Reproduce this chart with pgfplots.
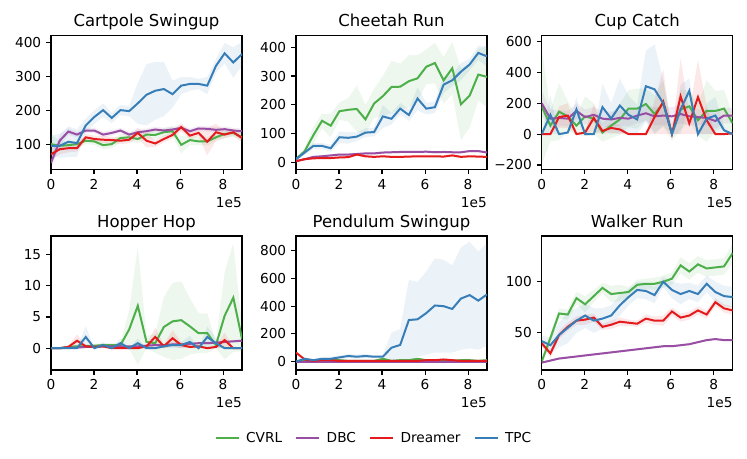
\documentclass[border=0pt]{standalone}
\usepackage{fontspec}
\setmainfont{DejaVu Sans}
\usepackage{pgfplots}
\usepackage{pgfplotstable}
\pgfplotsset{compat=1.18}
\usepgfplotslibrary{fillbetween}
\definecolor{cvrl}{HTML}{4DAF4A}
\definecolor{dbc}{HTML}{984EA3}
\definecolor{dreamer}{HTML}{E41A1C}
\definecolor{tpc}{HTML}{377EB8}
\newcommand{\tickfont}{\fontsize{13.7bp}{16bp}\selectfont}
\newcommand{\titlefont}{\fontsize{16.5bp}{19bp}\selectfont}

% columns: x, CVRL (g, gs), DBC (p, ps), Dreamer (r, rs), TPC (b, bs); *s = half width of band
\pgfplotstableread{
x g gs p ps r rs b bs
0.000 100 30 45 20 70 15 95 30
0.404 95 15 110 15 85 15 95 35
0.807 97 10 137 10 88 12 107 45
1.211 100 10 128 8 88 10 103 40
1.615 110 10 140 8 120 10 155 20
2.018 108 10 140 8 115 10 180 20
2.422 97 12 128 8 113 10 200 20
2.825 100 12 133 8 112 10 177 15
3.229 118 12 140 8 110 10 200 15
3.633 120 12 128 8 113 10 197 15
4.036 115 12 135 8 133 15 220 60
4.440 128 12 138 8 110 20 245 90
4.844 127 12 143 8 102 10 257 85
5.247 135 12 140 8 115 10 262 80
5.651 138 15 143 8 127 10 247 40
6.055 98 25 148 8 150 12 272 25
6.458 112 15 138 8 125 10 277 20
6.862 108 12 146 8 133 10 277 15
7.265 108 12 145 8 107 40 272 25
7.669 120 12 142 8 135 25 330 20
8.073 130 12 144 8 128 10 367 30
8.476 133 12 140 8 135 10 340 45
8.880 120 12 138 8 118 10 365 35
}\tabA
\pgfplotstableread{
x g gs p ps r rs b bs
0.000 12 5 5 3 5 3 12 5
0.404 40 10 12 3 12 3 35 8
0.807 95 30 20 4 15 3 58 10
1.211 145 25 22 4 16 3 58 10
1.615 128 40 25 4 16 3 50 12
2.018 178 30 28 4 18 3 88 20
2.422 183 40 28 4 19 3 86 20
2.825 186 80 30 4 28 4 90 15
3.229 150 50 32 4 22 3 104 15
3.633 205 50 32 4 20 3 106 15
4.036 230 70 35 4 22 3 160 40
4.440 262 90 36 4 20 3 152 20
4.844 263 80 37 4 20 3 187 20
5.247 282 90 37 4 21 3 165 20
5.651 292 80 37 4 22 3 222 40
6.055 332 60 38 4 22 3 187 20
6.458 345 70 36 4 22 3 192 20
6.862 285 80 37 4 21 3 270 30
7.265 327 90 36 4 25 3 285 20
7.669 202 125 36 4 20 3 315 30
8.073 232 110 40 4 22 3 340 20
8.476 305 90 40 4 21 3 380 25
8.880 297 105 35 4 20 3 368 35
}\tabB
\pgfplotstableread{
x g gs p ps r rs b bs
0.000 180 380 200 80 0 0 0 0
0.404 55 100 100 60 0 0 125 125
0.807 145 185 105 50 110 70 0 0
1.211 115 100 100 50 120 80 10 10
1.615 55 60 150 50 0 0 160 80
2.018 115 130 110 50 10 10 0 0
2.422 100 100 125 50 105 90 0 0
2.825 10 60 100 50 20 20 175 150
3.229 55 80 95 50 40 30 100 100
3.633 95 100 105 50 30 30 185 175
4.036 165 120 100 50 0 0 125 125
4.440 165 130 120 50 0 0 95 95
4.844 195 100 135 50 0 0 310 230
5.247 130 120 115 60 110 110 290 290
5.651 200 150 120 60 210 210 200 150
6.055 5 50 115 60 0 0 0 0
6.458 160 130 130 60 245 245 160 160
6.862 180 100 115 60 70 70 280 80
7.265 90 100 110 50 240 240 0 0
7.669 150 200 105 50 90 90 100 100
8.073 150 130 85 50 0 0 120 120
8.476 165 120 120 50 0 0 25 25
8.880 70 60 120 50 5 5 0 0
}\tabC
\pgfplotstableread{
x g gs p ps r rs b bs
0.000 0 0.1 0 0.2 0 0 0 0
0.404 0 0.1 0 0.2 0 0 0 0
0.807 0.2 0.3 0.1 0.2 0.2 0.2 0 0
1.211 0.3 0.3 0.1 0.2 1.2 1.0 0 0
1.615 0.3 0.3 0.2 0.2 0.3 0.3 1.8 1.7
2.018 0.4 0.3 0.2 0.2 0.2 0.2 0 0
2.422 0.5 0.3 0.3 0.2 0.3 0.3 0.5 0.5
2.825 0.5 0.3 0.3 0.2 0 0 0 0
3.229 0.5 0.5 0.3 0.2 0 0 0.8 0.8
3.633 3.0 3.0 0.3 0.2 0 0 0 0
4.036 6.8 9.5 0.3 0.2 0 0 0.8 0.8
4.440 1.0 1.0 0.4 0.2 0.3 0.3 0 0
4.844 0.8 1.5 0.5 0.2 1.8 1.5 0 0
5.247 3.4 4.8 0.5 0.2 0.3 0.3 0.3 0.3
5.651 4.3 6.2 0.6 0.2 1.6 1.3 0.5 0.5
6.055 4.5 6.2 0.6 0.2 0.5 0.5 0.5 0.5
6.458 3.5 4.5 0.7 0.2 0.2 0.2 1.0 1.0
6.862 2.4 3.2 0.8 0.2 0.3 0.3 0 0
7.265 2.4 3.2 0.8 0.2 0 0 1.8 1.7
7.669 0.5 0.5 0.9 0.2 0.2 0.2 0.8 0.8
8.073 5.2 7.0 1.0 0.2 1.3 1.2 0 0
8.476 8.1 8.7 1.1 0.2 0 0 0 0
8.880 1.5 2.0 1.2 0.2 0 0 0 0
}\tabD
\pgfplotstableread{
x g gs p ps r rs b bs
0.000 0 5 0 3 65 5 0 5
0.404 5 5 0 3 15 5 20 10
0.807 5 5 0 3 5 5 10 5
1.211 10 5 0 3 10 5 20 10
1.615 10 5 0 3 10 5 20 15
2.018 10 5 0 3 5 5 30 15
2.422 5 5 0 3 5 5 40 15
2.825 5 5 0 3 5 5 35 15
3.229 5 5 0 3 5 5 40 15
3.633 5 5 0 3 5 5 35 10
4.036 20 5 0 3 5 5 35 10
4.440 5 5 0 3 5 5 100 110
4.844 10 5 0 3 5 5 120 115
5.247 10 5 0 3 5 5 300 290
5.651 20 5 0 3 5 5 305 270
6.055 10 5 0 3 10 5 350 300
6.458 10 5 0 3 10 5 405 340
6.862 10 5 0 3 15 5 400 335
7.265 5 5 0 3 10 5 380 315
7.669 10 5 0 3 5 5 455 370
8.073 10 5 0 3 5 5 480 385
8.476 5 5 0 3 5 5 440 355
8.880 10 5 0 3 5 5 485 370
}\tabE
\pgfplotstableread{
x g gs p ps r rs b bs
0.000 22 3 21 1 40 3 42 5
0.404 45 5 23 1 30 4 38 8
0.807 69 5 25 1 48 4 48 12
1.211 68 5 26 1 56 4 55 15
1.615 84 6 27 1 62 4 62 12
2.018 78 8 28 1 63 5 67 12
2.422 86 6 29 1 65 4 62 12
2.825 94 5 30 1 56 3 64 10
3.229 88 8 31 1 58 4 67 10
3.633 89 8 32 1 61 4 77 10
4.036 90 5 33 1 60 3 85 8
4.440 97 5 34 1 59 3 92 8
4.844 98 5 35 1 64 4 91 8
5.247 98 6 36 1 62 4 87 8
5.651 100 6 37 1 62 5 100 5
6.055 103 6 37 1 71 4 92 8
6.458 116 8 38 1 65 4 88 10
6.862 110 8 39 1 67 4 91 8
7.265 117 8 41 1 72 4 88 8
7.669 113 8 43 1 68 4 98 8
8.073 114 8 44 1 80 4 90 10
8.476 115 8 43 1 74 4 86 10
8.880 128 10 43 1 72 4 85 10
}\tabF

\newcommand{\band}[3]{%
  \addplot[draw=none, forget plot, name path=U#2] table[x=x, y expr=\thisrow{#2}+\thisrow{#2s}] {#1};
  \addplot[draw=none, forget plot, name path=L#2] table[x=x, y expr=\thisrow{#2}-\thisrow{#2s}] {#1};
  \addplot[fill=#3, fill opacity=0.1, draw=none, forget plot] fill between[of=U#2 and L#2];
  \addplot[#3, line width=2bp, forget plot] table[x=x, y=#2] {#1};
}
\newcommand{\allseries}[1]{%
  \band{#1}{g}{cvrl}
  \band{#1}{p}{dbc}
  \band{#1}{r}{dreamer}
  \band{#1}{b}{tpc}
}

\pgfplotsset{myax/.style={
  scale only axis, width=191bp, height=134bp, anchor=south west,
  xmin=0, xmax=8.88, xtick={0,2,4,6,8},
  tick pos=left, tick align=outside, major tick length=4.8bp,
  every tick/.style={black, line width=1.1bp},
  axis line style={line width=1.1bp, black},
  ticklabel style={font=\tickfont},
  /pgf/number format/assume math mode=true,
  xticklabel style={inner sep=0pt, anchor=north, yshift=-4.8bp},
  yticklabel style={inner sep=0pt, anchor=east, xshift=-4.8bp},
  title style={font=\titlefont, at={(0.5,1)}, anchor=base, yshift=2.5bp, inner sep=0pt},
}}

\begin{document}
\begin{tikzpicture}

\begin{axis}[myax, name=A1, at={(51bp,289.7bp)}, title={Cartpole Swingup},
  ymin=26, ymax=420, ytick={100,200,300,400}]
\allseries{\tabA}
\end{axis}

\begin{axis}[myax, name=A2, at={(296bp,289.7bp)}, title={Cheetah Run},
  ymin=-23, ymax=441, ytick={0,100,200,300,400}]
\allseries{\tabB}
\end{axis}

\begin{axis}[myax, name=A3, at={(541.7bp,289.7bp)}, title={Cup Catch},
  ymin=-228, ymax=640, ytick={-200,0,200,400,600}, yticklabels={−200,0,200,400,600}]
\allseries{\tabC}
\end{axis}

\begin{axis}[myax, name=A4, at={(51bp,89bp)}, title={Hopper Hop},
  ymin=-3.5, ymax=18, ytick={0,5,10,15}]
\allseries{\tabD}
\end{axis}

\begin{axis}[myax, name=A5, at={(296bp,89bp)}, title={Pendulum Swingup},
  ymin=-61, ymax=907, ytick={0,200,400,600,800},
  legend columns=4,
  legend image code/.code={\draw[#1, line width=2bp] (0bp,0bp) -- (23bp,0bp);},
  legend style={at={(axis description cs:0.403,-0.511)}, anchor=center, draw=none, fill=none,
    font=\tickfont, nodes={inner sep=0pt},
    /tikz/every odd column/.append style={column sep=6.5bp},
    /tikz/every even column/.append style={column sep=13bp}}]
\allseries{\tabE}
\addlegendimage{cvrl}\addlegendentry{CVRL}
\addlegendimage{dbc}\addlegendentry{DBC}
\addlegendimage{dreamer}\addlegendentry{Dreamer}
\addlegendimage{tpc}\addlegendentry{TPC}
\end{axis}

\begin{axis}[myax, name=A6, at={(541.7bp,89bp)}, title={Walker Run},
  ymin=13.8, ymax=144.7, ytick={50,100}]
\allseries{\tabF}
\end{axis}

\foreach \a in {A1,A2,A3,A4,A5,A6}{
  \node[anchor=east, inner sep=0pt, font=\tickfont, yshift=-33bp] at (\a.south east) {1e5};
}
\path (0,0) rectangle (747bp,459bp);
\end{tikzpicture}
\end{document}
